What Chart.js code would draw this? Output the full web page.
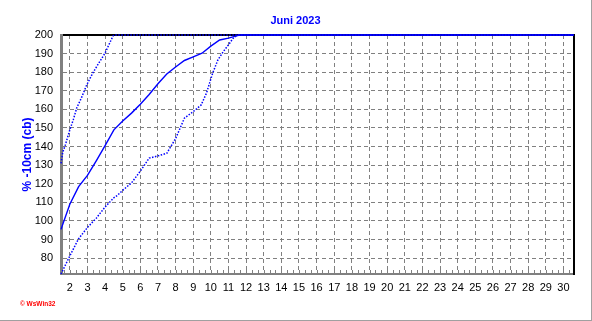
<!DOCTYPE html>
<html><head><meta charset="utf-8">
<script src="https://cdn.jsdelivr.net/npm/chart.js@4/dist/chart.umd.min.js"></script>
<style>
html,body{margin:0;padding:0;background:#fff;}
#wrap{position:relative;width:591px;height:320px;border-right:1px solid #a0a0a0;border-bottom:1px solid #a0a0a0;}
canvas{display:block;}
#mark{position:absolute;left:20px;top:300px;font:bold 6.5px "Liberation Sans",Arial,sans-serif;color:#ff0000;white-space:nowrap;}
</style></head><body>
<div id="wrap"><canvas id="c" width="591" height="320"></canvas><div id="mark">© WsWin32</div></div>
<script>
// Upper dotted curve
const upperDays = [1.5, 1.6, 1.75, 2.0, 2.2, 2.4, 2.65, 2.95, 3.3, 3.65, 4.0, 4.45, 4.55, 30.6];
const upperVals = [131, 137, 141, 149, 154.5, 161, 166, 173, 179.5, 185, 190.3, 199.5, 200, 200];
// Solid middle curve
const midDays = [1.5, 2.0, 2.5, 3.0, 3.5, 4.0, 4.5, 5.0, 5.5, 6.0, 6.5, 7.0, 7.5, 8.0, 8.5, 9.0, 9.5, 10.0, 10.5, 11.0, 11.45, 11.6, 30.6];
const midVals = [95.5, 109, 118.5, 124.5, 132.3, 140.5, 149, 153.8, 158, 162.8, 168, 173.8, 179, 182.8, 186.3, 188.2, 190.2, 194, 197.3, 198.3, 199.5, 200, 200];
// Lower dotted curve
const lowDays = [1.5, 2.0, 2.5, 3.0, 3.5, 4.0, 4.5, 4.7, 5.0, 5.5, 6.0, 6.5, 7.0, 7.5, 8.0, 8.5, 9.0, 9.45, 9.75, 10.1, 10.4, 10.7, 11.0, 11.26, 11.45, 11.6, 30.6];
const lowVals = [71.5, 81.2, 90.5, 96.5, 101.5, 107.5, 112.5, 113.8, 116.5, 120.5, 126.8, 133.8, 135, 136.4, 144.3, 155.3, 158.8, 162.4, 168.7, 179.4, 186.6, 191, 194.7, 198.2, 199.5, 200, 200];

const xTicks = [2,3,4,5,6,7,8,9,10,11,12,13,14,15,16,17,18,19,20,21,22,23,24,25,26,27,28,29,30];
const yTicks = [80,90,100,110,120,130,140,150,160,170,180,190,200];
const X_MIN = 1.5, X_MAX = 30.6, Y_MIN = 71.5, Y_MAX = 200;
const minorTicks = [];
for (let d = 2; d <= 30; d++) { minorTicks.push(d - 1/3, d, d + 1/3); }

const pts = (xs, ys) => xs.map((x, i) => ({x, y: ys[i]}));
const FONT = 'Liberation Sans, Arial, sans-serif';

const minorTickPlugin = {
  id: 'minorTicks',
  afterDatasetsDraw(chart) {
    const ctx = chart.ctx, xs = chart.scales.x, b = chart.chartArea.bottom;
    ctx.save();
    ctx.strokeStyle = '#808080'; ctx.lineWidth = 1;
    minorTicks.forEach(v => {
      if (v <= X_MIN || v >= X_MAX) return;
      const px = Math.round(xs.getPixelForValue(v)) + 0.5;
      ctx.beginPath(); ctx.moveTo(px, b - 1); ctx.lineTo(px, b - 4); ctx.stroke();
    });
    ctx.restore();
  }
};

const dotted = { borderColor: '#0000ff', borderWidth: 1.5, borderDash: [1.5, 1.5], pointRadius: 0, tension: 0, clip: 2 };
new Chart(document.getElementById('c'), {
  type: 'line',
  data: { datasets: [
    Object.assign({ data: pts(upperDays, upperVals) }, dotted),
    { data: pts(midDays, midVals), borderColor: '#0000ff', borderWidth: 1.4, pointRadius: 0, tension: 0, clip: 2 },
    Object.assign({ data: pts(lowDays, lowVals) }, dotted)
  ]},
  options: {
    responsive: false, animation: false,
    layout: { padding: 0 },
    plugins: {
      legend: { display: false }, tooltip: { enabled: false },
      title: { display: true, text: 'Juni 2023', color: '#0000ff',
        font: { family: FONT, size: 11, weight: 'bold', lineHeight: 1.2 },
        padding: { top: 14.4, bottom: 7.4 } }
    },
    scales: {
      x: { type: 'linear', position: 'bottom', min: X_MIN, max: X_MAX,
        afterFit(s) { s.height = 46; },
        afterBuildTicks(s) { s.ticks = xTicks.map(v => ({ value: v })); },
        ticks: { autoSkip: false, maxRotation: 0, padding: 7.5, color: '#000', font: { family: FONT, size: 11 } },
        grid: { color: '#808080', lineWidth: 1, drawTicks: false },
        border: { display: true, color: '#808080', width: 2, dash: [4, 3] } },
      x2: { type: 'linear', position: 'top', display: true,
        afterFit(s) { s.height = 0; },
        ticks: { display: false }, grid: { display: false, drawTicks: false },
        border: { display: true, color: '#000', width: 2 } },
      y: { type: 'linear', position: 'left', min: Y_MIN, max: Y_MAX,
        afterFit(s) { s.width = 61; },
        afterBuildTicks(s) { s.ticks = yTicks.map(v => ({ value: v })); },
        ticks: { padding: 8, color: '#000', font: { family: FONT, size: 11 } },
        grid: { color: '#808080', lineWidth: 1, drawTicks: false },
        border: { display: true, color: '#808080', width: 3, dash: [4, 3] },
        title: { display: true, text: '% -10cm (cb)', color: '#0000ff',
          font: { family: FONT, size: 12, weight: 'bold', lineHeight: 1.2 },
          padding: { top: 20, bottom: 0 } } },
      y2: { type: 'linear', position: 'right', display: true,
        afterFit(s) { s.width = 17; },
        ticks: { display: false }, grid: { display: false, drawTicks: false },
        border: { display: true, color: '#000', width: 2 } }
    }
  },
  plugins: [minorTickPlugin]
});
</script>
</body></html>
